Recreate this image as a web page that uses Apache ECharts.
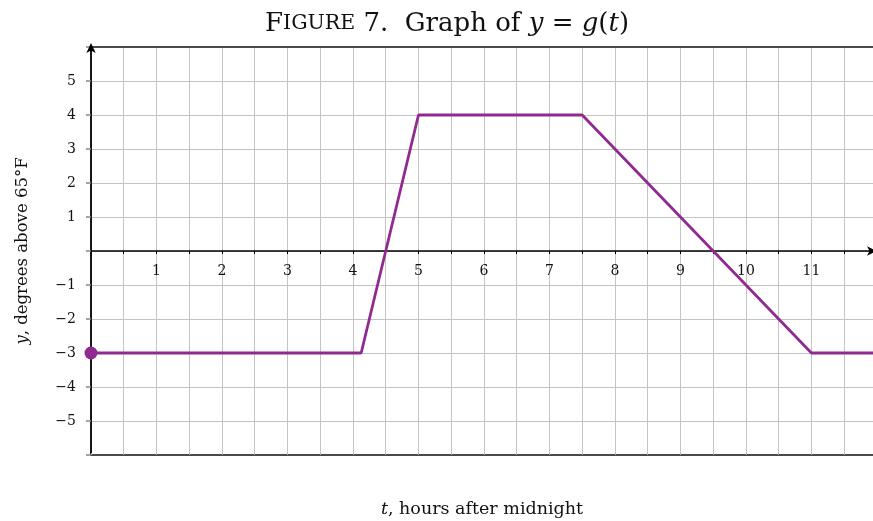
<!DOCTYPE html>
<html>
<head>
<meta charset="utf-8">
<script src="https://cdn.jsdelivr.net/npm/echarts@6/dist/echarts.min.js"></script>
<style>
  html, body { margin: 0; padding: 0; background: #fff; }
  #chart { width: 873px; height: 521px; }
</style>
</head>
<body>
<div id="chart"></div>
<script>
// Piecewise-linear temperature offset g(t)
const tValues = [0, 4.125, 5, 7.5, 11, 12];
const yValues = [-3, -3, 4, 4, -3, -3];
const startPoint = [0, -3];

const xRange = [0, 11.94];
const yRange = [-6, 6];
const xTickLabels = [1, 2, 3, 4, 5, 6, 7, 8, 9, 10, 11];
const yTickLabels = [-5, -4, -3, -2, -1, 1, 2, 3, 4, 5];

const serif = '"DejaVu Serif", "Liberation Serif", serif';
const ink = '#111';
const purple = '#902a90';
const gridGray = '#c4c4c4';

const lineData = tValues.map((t, i) => [t, yValues[i]]);
// hour labels sit just under the t-axis, which runs through y = 0
const hourLabelData = xTickLabels.map(t => [t, 0]);

const chart = echarts.init(document.getElementById('chart'), null, { renderer: 'canvas' });

chart.setOption({
  backgroundColor: '#fff',
  animation: false,
  title: {
    left: 260,
    top: 6,
    text: '{cap|F}{sc|IGURE}{n| 7.  Graph of }{it|y}{n| = }{it|g}{n|(}{it|t}{n|)}',
    textStyle: {
      fontWeight: 'normal',
      rich: {
        cap: { fontFamily: serif, fontSize: 26, fontWeight: 'normal', color: ink },
        sc: { fontFamily: serif, fontSize: 20.5, fontWeight: 'normal', color: ink },
        n: { fontFamily: serif, fontSize: 26, fontWeight: 'normal', color: ink },
        it: { fontFamily: serif, fontSize: 26, fontWeight: 'normal', fontStyle: 'italic', color: ink }
      }
    }
  },
  grid: { left: 91, right: 0, top: 47, bottom: 66, containLabel: false, outerBoundsMode: 'none' },
  xAxis: [
    {
      // t-axis through y = 0
      type: 'value',
      min: xRange[0], max: xRange[1], interval: 0.5,
      axisLine: {
        onZero: true,
        lineStyle: { color: '#000', width: 1.6 },
        symbol: ['none', 'arrow'], symbolSize: [7, 10], symbolOffset: [0, 4]
      },
      axisTick: { show: true, length: 3, lineStyle: { color: '#000', width: 1 } },
      axisLabel: { show: false },
      splitLine: { show: true, lineStyle: { color: gridGray, width: 1 } }
    },
    {
      // bottom frame edge with axis title
      type: 'value', position: 'bottom',
      min: xRange[0], max: xRange[1], interval: 0.5,
      axisLine: { onZero: false, lineStyle: { color: '#4a4a4a', width: 2 } },
      axisTick: { show: true, inside: true, length: 2, lineStyle: { color: '#aaa' } },
      axisLabel: { show: false },
      splitLine: { show: false },
      name: '{it|t}{n|, hours after midnight}',
      nameLocation: 'middle',
      nameGap: 45,
      nameTextStyle: {
        rich: {
          it: { fontFamily: serif, fontSize: 17.5, fontStyle: 'italic', color: ink },
          n: { fontFamily: serif, fontSize: 17.5, color: ink }
        }
      }
    },
    {
      // top frame edge
      type: 'value', position: 'top',
      min: xRange[0], max: xRange[1], interval: 0.5,
      axisLine: { onZero: false, lineStyle: { color: '#4a4a4a', width: 2 } },
      axisTick: { show: false },
      axisLabel: { show: false },
      splitLine: { show: false }
    }
  ],
  yAxis: {
    type: 'value',
    min: yRange[0], max: yRange[1], interval: 1,
    axisLine: {
      onZero: false,
      lineStyle: { color: '#000', width: 1.8 },
      symbol: ['none', 'arrow'], symbolSize: [7, 10], symbolOffset: [0, 4]
    },
    axisTick: { show: true, length: 5, lineStyle: { color: '#888', width: 1.5 } },
    axisLabel: {
      margin: 15,
      fontFamily: serif, fontSize: 14, color: ink,
      formatter: v => (yTickLabels.indexOf(v) >= 0 ? (v < 0 ? '\u2212' + Math.abs(v) : String(v)) : '')
    },
    splitLine: { show: true, lineStyle: { color: gridGray, width: 1 } },
    name: '{it|y}{n|, degrees above 65°F}',
    nameLocation: 'middle',
    nameRotate: 90,
    nameGap: 60,
    nameTextStyle: {
      rich: {
        it: { fontFamily: serif, fontSize: 16.5, fontStyle: 'italic', color: ink },
        n: { fontFamily: serif, fontSize: 16.5, color: ink }
      }
    }
  },
  series: [
    {
      type: 'line',
      data: lineData,
      showSymbol: false,
      clip: true,
      lineStyle: { color: purple, width: 2.8 },
      z: 5
    },
    {
      type: 'scatter',
      data: [startPoint],
      symbolSize: 13,
      clip: false,
      itemStyle: { color: purple, opacity: 1 },
      z: 10
    },
    {
      // hour tick labels
      type: 'scatter',
      data: hourLabelData,
      symbolSize: 1,
      itemStyle: { color: 'rgba(0,0,0,0)' },
      silent: true,
      label: {
        show: true,
        position: 'bottom',
        distance: 13,
        opacity: 1,
        formatter: p => String(p.value[0]),
        fontFamily: serif, fontSize: 14, fontWeight: 'normal', color: ink
      },
      z: 4
    }
  ]
});
</script>
</body>
</html>
